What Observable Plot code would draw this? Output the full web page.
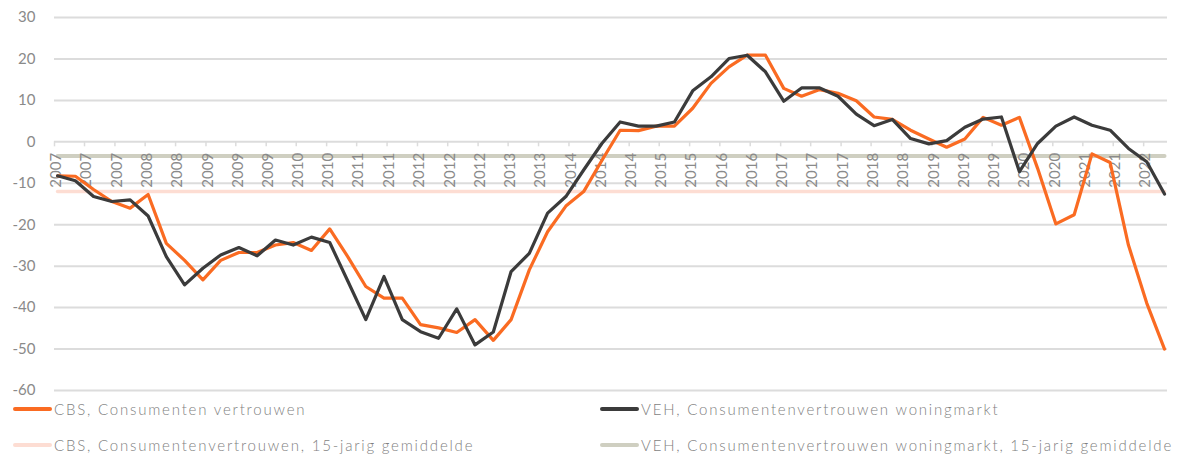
<!DOCTYPE html>
<html><head><meta charset="utf-8">
<script src="https://cdn.jsdelivr.net/npm/d3@7"></script>
<script src="https://cdn.jsdelivr.net/npm/@observablehq/plot@0.6"></script>
<style>
body{margin:0;background:#fff;font-family:Lato,"Open Sans",sans-serif;}
#chart{width:1184px;}
.legend{position:relative;width:1184px;height:63px;color:#7f7f7f;font-size:15px;font-weight:300;letter-spacing:1.8px}
.item{position:absolute;display:flex;align-items:center;white-space:nowrap;height:20px;transform:translateY(-50%)}
.sw{width:39px;height:3.5px;border-radius:2px;margin-right:2px;flex:none}
</style></head><body>
<div id="chart"></div>
<div class="legend" id="legend"></div>
<script>
const dates = ["2007-01","2007-04","2007-07","2007-10","2008-01","2008-04","2008-07","2008-10",
"2009-01","2009-04","2009-07","2009-10","2010-01","2010-04","2010-07","2010-10",
"2011-01","2011-04","2011-07","2011-10","2012-01","2012-04","2012-07","2012-10",
"2013-01","2013-04","2013-07","2013-10","2014-01","2014-04","2014-07","2014-10",
"2015-01","2015-04","2015-07","2015-10","2016-01","2016-04","2016-07","2016-10",
"2017-01","2017-04","2017-07","2017-10","2018-01","2018-04","2018-07","2018-10",
"2019-01","2019-04","2019-07","2019-10","2020-01","2020-04","2020-07","2020-10",
"2021-01","2021-04","2021-07","2021-10","2022-01","2022-04"];
const cbs = [-8.2,-8.3,-11.5,-14.4,-16.0,-12.7,-24.5,-28.6,-33.3,-28.6,-26.7,-26.7,-24.9,-24.3,-26.2,-21.0,
-27.8,-34.9,-37.7,-37.7,-44.1,-44.9,-46.0,-42.9,-47.9,-42.9,-30.9,-21.7,-15.5,-12.0,-4.5,2.8,
2.7,3.8,3.8,8.1,14.1,18.1,20.9,20.9,12.9,11.0,12.6,11.7,9.9,6.0,5.4,2.8,
0.7,-1.3,0.7,5.9,4.0,5.9,-6.4,-19.8,-17.6,-2.9,-5.0,-24.9,-38.9,-50.0];
const veh = [-8.2,-9.4,-13.2,-14.4,-14.0,-17.9,-27.7,-34.5,-30.5,-27.3,-25.5,-27.5,-23.7,-24.9,-23.0,-24.3,
-33.7,-42.9,-32.5,-42.9,-45.8,-47.4,-40.3,-49.0,-45.9,-31.3,-26.9,-17.2,-13.2,-6.8,-0.4,4.8,
3.8,3.8,4.8,12.3,15.7,20.1,20.9,16.9,9.8,13.0,13.0,11.0,6.7,3.9,5.4,0.8,
-0.5,0.3,3.5,5.5,6.0,-7.2,-0.4,3.8,6.0,4.0,2.8,-1.6,-4.8,-12.6];
const cbsAvg = -12.0;
const vehAvg = -3.4;
const yTicks = [-60,-50,-40,-30,-20,-10,0,10,20,30];
const tickLabels = ["2007","2007","2007","2008","2008","2009","2009","2009","2010","2010","2011","2011",
"2012","2012","2012","2013","2013","2014","2014","2014","2015","2015","2016","2016","2017","2017","2017",
"2018","2018","2019","2019","2019","2020","2020","2021","2021","2022"];
const seriesNames = ["CBS, Consumenten vertrouwen","VEH, Consumentenvertrouwen woningmarkt",
"CBS, Consumentenvertrouwen, 15-jarig gemiddelde","VEH, Consumentenvertrouwen woningmarkt, 15-jarig gemiddelde"];
const seriesColors = ["#FA6B22","#3B3B3B","#FDDDD3","#CFCFC1"];

const parse = d3.utcParse("%Y-%m");
const rows = dates.map((s,i)=>{
  const d = parse(s);
  const mid = new Date((+d + +d3.utcMonth.offset(d,1))/2);
  return {date: mid, cbs: cbs[i], veh: veh[i], cbsAvg, vehAvg};
});
const axisStart = parse(dates[0]);
const axisEnd = d3.utcMonth.offset(parse(dates[dates.length-1]), 1);
const xTickDates = d3.utcMonth.range(axisStart, axisEnd, 5).slice(0, tickLabels.length);

const chart = Plot.plot({
  width: 1184, height: 398,
  marginLeft: 54, marginRight: 17, marginTop: 17, marginBottom: 8,
  style: {fontFamily: "Lato, sans-serif", fontSize: "15px", color: "#8a8a8a", background: "#fff"},
  x: {type: "utc", domain: [axisStart, axisEnd], axis: null},
  y: {domain: [-60, 30], ticks: yTicks, tickSize: 0, tickPadding: 19, tickFormat: d => String(d), label: null},
  marks: [
    Plot.ruleY(yTicks, {stroke: "#dcdcdc", strokeWidth: 2}),
    Plot.ruleX(xTickDates, {x: d => d, y1: () => 0, y2: () => 0, insetBottom: -5, stroke: "#dcdcdc", strokeWidth: 1.5}),
    Plot.lineY(rows, {x: "date", y: "cbsAvg", stroke: seriesColors[2], strokeWidth: 3.5, strokeLinecap: "round"}),
    Plot.lineY(rows, {x: "date", y: "vehAvg", stroke: seriesColors[3], strokeWidth: 4, strokeLinecap: "round"}),
    Plot.text(xTickDates, {x: d => d, y: () => 0, text: (d, i) => tickLabels[i], rotate: -90, textAnchor: "end", dy: 11, dx: 2, fill: "#8a8a8a", fontSize: 15}),
    Plot.lineY(rows, {x: "date", y: "cbs", stroke: seriesColors[0], strokeWidth: 3.2, strokeLinejoin: "round", strokeLinecap: "round"}),
    Plot.lineY(rows, {x: "date", y: "veh", stroke: seriesColors[1], strokeWidth: 3.2, strokeLinejoin: "round", strokeLinecap: "round"})
  ]
});
document.getElementById("chart").appendChild(chart);

const legend = d3.select("#legend");
const pos = [[13,11],[600,11],[13,47],[600,47]];
seriesNames.forEach((name, i) => {
  const it = legend.append("div").attr("class","item").style("left", pos[i][0]+"px").style("top", pos[i][1]+"px");
  it.append("div").attr("class","sw").style("background", seriesColors[i]);
  it.append("span").text(name);
});
</script>
</body></html>
